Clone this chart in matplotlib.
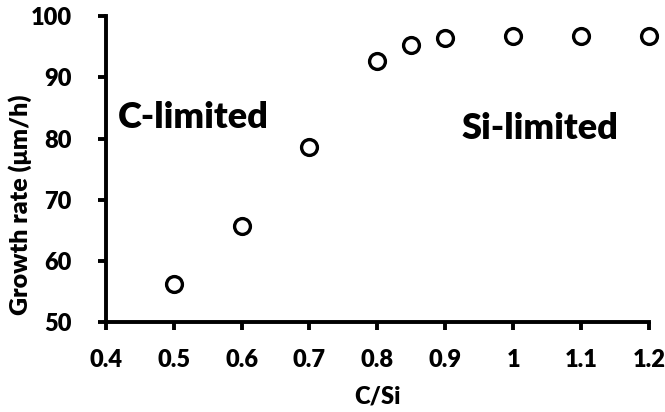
import matplotlib.pyplot as plt

# data
c_si = [0.5, 0.6, 0.7, 0.8, 0.85, 0.9, 1.0, 1.1, 1.2]
growth_rate = [56.2, 65.7, 78.6, 92.6, 95.2, 96.4, 96.7, 96.7, 96.8]

x_ticks = [0.4, 0.5, 0.6, 0.7, 0.8, 0.9, 1.0, 1.1, 1.2]
x_tick_labels = ['0.4', '0.5', '0.6', '0.7', '0.8', '0.9', '1', '1.1', '1.2']
y_ticks = [50, 60, 70, 80, 90, 100]

plt.rcParams['font.family'] = ['Lato', 'DejaVu Sans']
plt.rcParams['font.weight'] = 'heavy'

fig = plt.figure(figsize=(6.65, 4.12), dpi=100)
ax = fig.add_axes([0.159, 0.218, 0.817, 0.743])

ax.scatter(c_si, growth_rate, s=130, facecolors='white', edgecolors='black',
           linewidths=2.4, zorder=3, clip_on=False)

ax.set_xlim(0.4, 1.2)
ax.set_ylim(50, 100)
ax.set_xticks(x_ticks)
ax.set_xticklabels(x_tick_labels)
ax.set_yticks(y_ticks)

for side in ['top', 'right']:
    ax.spines[side].set_visible(False)
for side in ['left', 'bottom']:
    ax.spines[side].set_linewidth(2.8)

ax.tick_params(axis='both', direction='out', length=5.5, width=2.8,
               labelsize=17)
ax.tick_params(axis='y', pad=19)
ax.tick_params(axis='x', pad=14)
for lbl in ax.get_xticklabels() + ax.get_yticklabels():
    lbl.set_fontweight('heavy')

ax.set_xlabel('C/Si', fontsize=17, fontweight='heavy', va='center')
ax.xaxis.set_label_coords(0.501, -0.242)
ax.set_ylabel('Growth rate (μm/h)', fontsize=18, fontweight='heavy', va='center')
ax.yaxis.set_label_coords(-0.158, 0.385)

ax.text(0.418, 83.5, 'C-limited', fontsize=26, fontweight='heavy',
        ha='left', va='center')
ax.text(1.04, 81.7, 'Si-limited', fontsize=26, fontweight='heavy',
        ha='center', va='center')

fig.savefig('out.png', dpi=100)
